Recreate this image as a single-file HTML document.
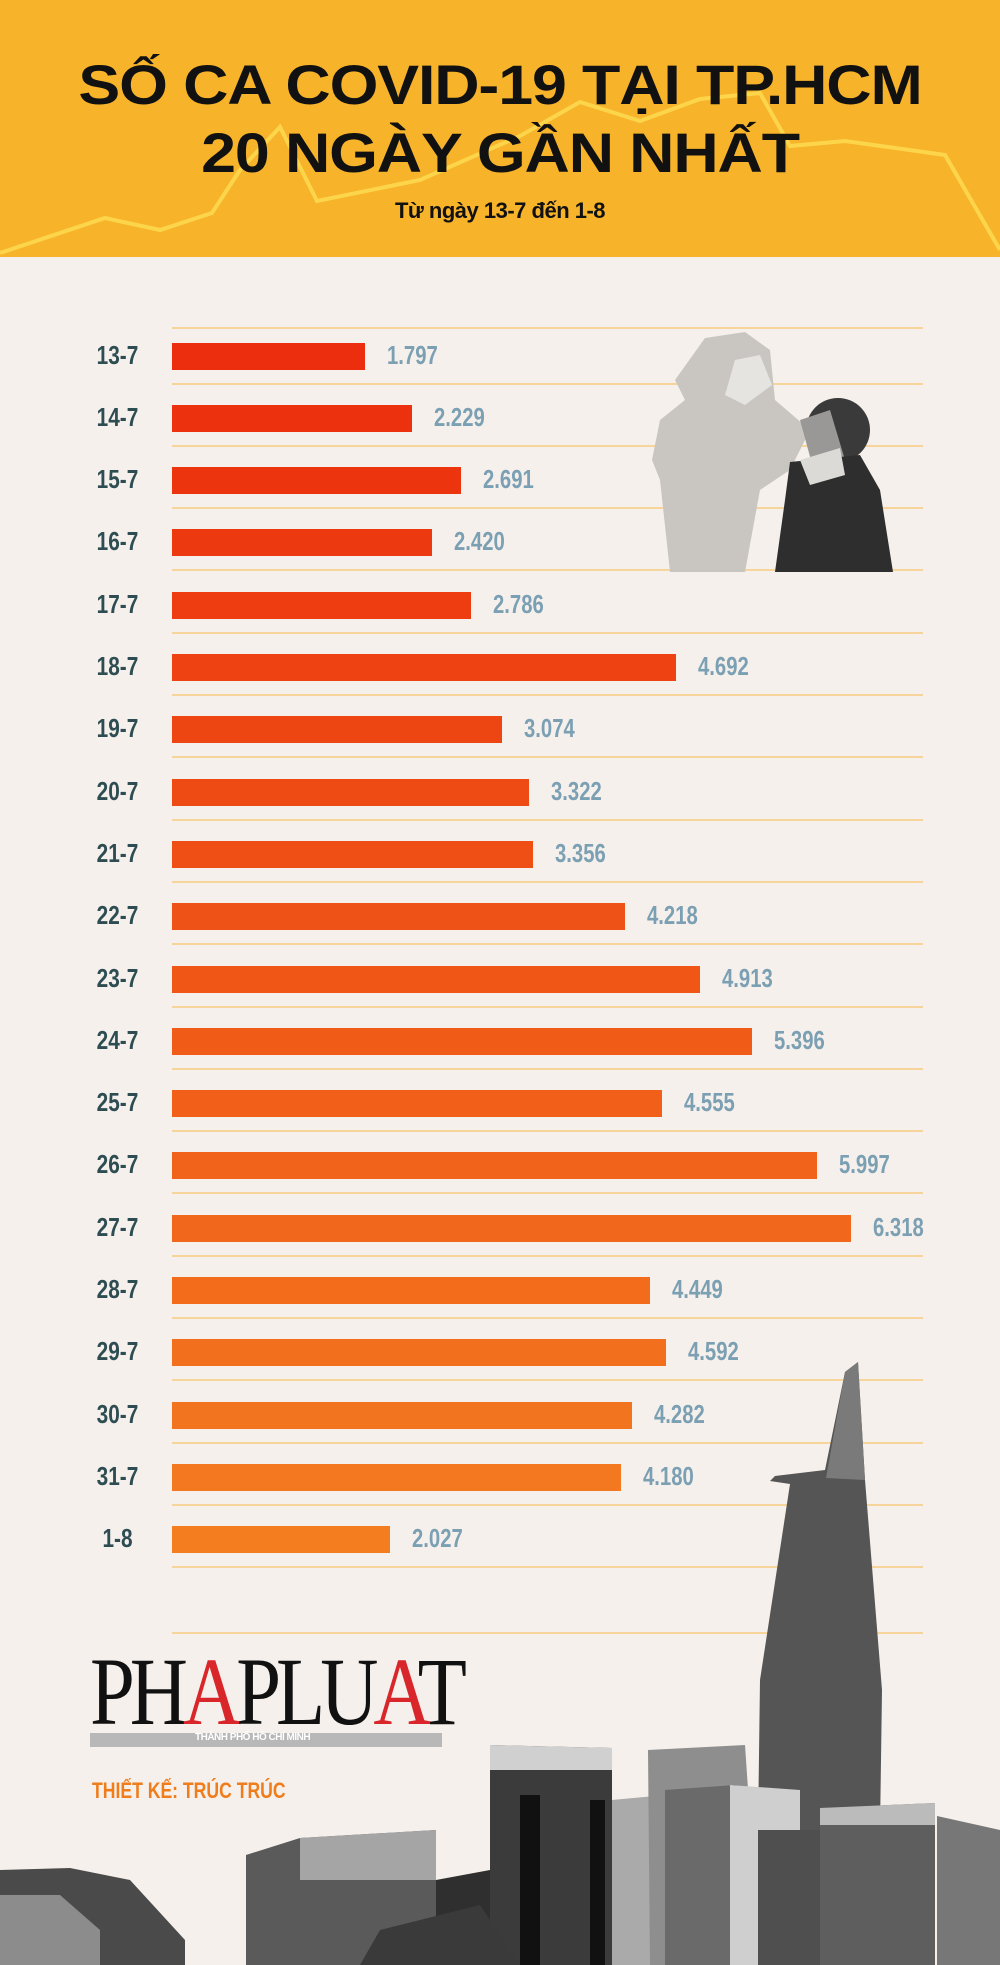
<!DOCTYPE html>
<html><head><meta charset="utf-8"><style>
html,body{margin:0;padding:0}
body{width:1000px;height:1965px;background:#f5f0eb;position:relative;overflow:hidden;font-family:"Liberation Sans",sans-serif}
.hdr{position:absolute;left:0;top:0;width:1000px;height:257px;background:#f7b32a;overflow:hidden}
.t{position:absolute;left:0;width:1000px;text-align:center;font-weight:bold;color:#111;}
.row{position:absolute;left:0;width:1000px;height:62px}
.lab{position:absolute;left:60px;width:115px;text-align:center;font-weight:bold;font-size:26px;color:#2e4d52;top:-16px;transform:scaleX(0.8)}
.bar{position:absolute;left:172px;height:27px;top:-13px}
.val{position:absolute;font-weight:bold;font-size:26px;color:#7b9fb3;top:-16px;transform:scaleX(0.78);transform-origin:left}
.gl{position:absolute;left:172px;width:751px;height:2px;background:#f7d59a}
</style></head><body>
<div class="hdr">
<svg width="1000" height="257" style="position:absolute;left:0;top:0">
<polyline fill="none" stroke="#fcd54a" stroke-width="4" points="0,253 105,218 160,230 212,213 240,170 280,127 317,201 420,180 520,136 580,102 640,121 700,99 760,93 790,146 845,141 945,155 1000,250"/>
</svg>
<div class="t" style="top:52px;font-size:56px;letter-spacing:-1px;transform:scaleX(1.12)">SỐ CA COVID-19 TẠI TP.HCM</div>
<div class="t" style="top:120px;font-size:56px;letter-spacing:-1px;transform:scaleX(1.12)">20 NGÀY GẦN NHẤT</div>
<div class="t" style="top:198px;font-size:22px;letter-spacing:-0.5px">Từ ngày 13-7 đến 1-8</div>
</div>

<div class="gl" style="top:327px"></div>
<div id="rows"></div>
<div class="gl" style="top:1632px"></div>

<svg width="1000" height="1965" style="position:absolute;left:0;top:0">
<path d="M705,338 L745,332 L770,350 L775,400 L810,430 L790,470 L760,490 L745,572 L670,572 L660,480 L652,460 L660,420 L685,400 L675,380 Z" fill="#c9c6c2"/>
<path d="M735,360 L760,355 L772,385 L745,405 L725,395 Z" fill="#e6e4e1"/>
<circle cx="838" cy="430" r="32" fill="#3a3a3a"/>
<path d="M800,420 L830,410 L845,460 L815,475 Z" fill="#9a9896"/>
<path d="M790,462 L860,455 L880,490 L893,572 L775,572 L785,500 Z" fill="#2e2e2e"/>
<path d="M800,460 L840,448 L845,475 L810,485 Z" fill="#dcdad6"/>
<path d="M858,1362 L845,1372 L825,1470 L775,1476 L770,1481 L790,1484 L760,1680 L758,1830 L880,1830 L882,1690 L865,1480 Z" fill="#555"/>
<path d="M845,1372 L858,1362 L865,1480 L826,1478 Z" fill="#7a7a7a"/>
<path d="M0,1870 L70,1868 L130,1880 L185,1940 L185,1965 L0,1965 Z" fill="#4a4a4a"/>
<path d="M0,1895 L60,1895 L100,1930 L100,1965 L0,1965 Z" fill="#8c8c8c"/>
<path d="M246,1855 L300,1838 L436,1830 L436,1965 L246,1965 Z" fill="#5a5a5a"/>
<path d="M300,1838 L436,1830 L436,1880 L300,1880 Z" fill="#a5a5a5"/>
<path d="M436,1880 L490,1870 L500,1965 L436,1965 Z" fill="#2f2f2f"/>
<path d="M490,1745 L612,1748 L612,1965 L490,1965 Z" fill="#3b3b3b"/>
<path d="M490,1745 L612,1748 L612,1770 L490,1770 Z" fill="#d0d0d0"/>
<path d="M520,1795 L540,1795 L540,1965 L520,1965 Z M590,1800 L605,1800 L605,1965 L590,1965 Z" fill="#111"/>
<path d="M612,1800 L665,1795 L665,1965 L612,1965 Z" fill="#aaa"/>
<path d="M648,1750 L745,1745 L760,1965 L650,1965 Z" fill="#8e8e8e"/>
<path d="M665,1790 L735,1785 L800,1800 L800,1965 L665,1965 Z" fill="#6a6a6a"/>
<path d="M730,1785 L800,1790 L800,1965 L730,1965 Z" fill="#cfcfcf"/>
<path d="M758,1830 L880,1830 L880,1965 L758,1965 Z" fill="#4f4f4f"/>
<path d="M820,1808 L935,1803 L935,1965 L820,1965 Z" fill="#5e5e5e"/>
<path d="M820,1808 L935,1803 L935,1825 L820,1825 Z" fill="#bbb"/>
<path d="M937,1816 L1000,1830 L1000,1965 L937,1965 Z" fill="#777"/>
<path d="M380,1930 L480,1905 L520,1965 L360,1965 Z" fill="#3a3a3a"/>
</svg>

<div style="position:absolute;left:90px;top:1733px;width:352px;height:14px;background:#b8b8b8"></div>
<div style="position:absolute;left:195px;top:1732px;font-size:10px;font-weight:bold;color:#fff;letter-spacing:-0.5px">THÀNH PHỐ HỒ CHÍ MINH</div>
<div style="position:absolute;left:90px;top:1648px;font-family:'Liberation Serif',serif;font-size:96px;line-height:88px;color:#111;letter-spacing:-6px;transform:scaleX(0.84);transform-origin:left">PH<span style="color:#d8262a">A</span>PLU<span style="color:#d8262a">A</span>T</div>
<div style="position:absolute;left:92px;top:1778px;font-weight:bold;font-size:22px;color:#f07d1c;transform:scaleX(0.8);transform-origin:left">THIẾT KẾ: TRÚC TRÚC</div>

<script>
var d=[["13-7",1797],["14-7",2229],["15-7",2691],["16-7",2420],["17-7",2786],["18-7",4692],["19-7",3074],["20-7",3322],["21-7",3356],["22-7",4218],["23-7",4913],["24-7",5396],["25-7",4555],["26-7",5997],["27-7",6318],["28-7",4449],["29-7",4592],["30-7",4282],["31-7",4180],["1-8",2027]];
var h="";
for(var i=0;i<d.length;i++){
 var c=355.5+i*62.3, w=d[i][1]*0.1075, t=i/19;
 var r=236+(244-236)*t|0, g=45+(125-45)*t|0, b=14+(32-14)*t|0;
 var v=d[i][1].toString(); v=v.slice(0,-3)+"."+v.slice(-3);
 h+='<div class="row" style="top:'+c+'px"><div class="lab">'+d[i][0]+'</div><div class="bar" style="width:'+w+'px;background:rgb('+r+','+g+','+b+')"></div><div class="val" style="left:'+(172+w+22)+'px">'+v+'</div></div>';
 h+='<div class="gl" style="top:'+(c+27)+'px"></div>';
}
document.getElementById("rows").innerHTML=h;
</script>
</body></html>
